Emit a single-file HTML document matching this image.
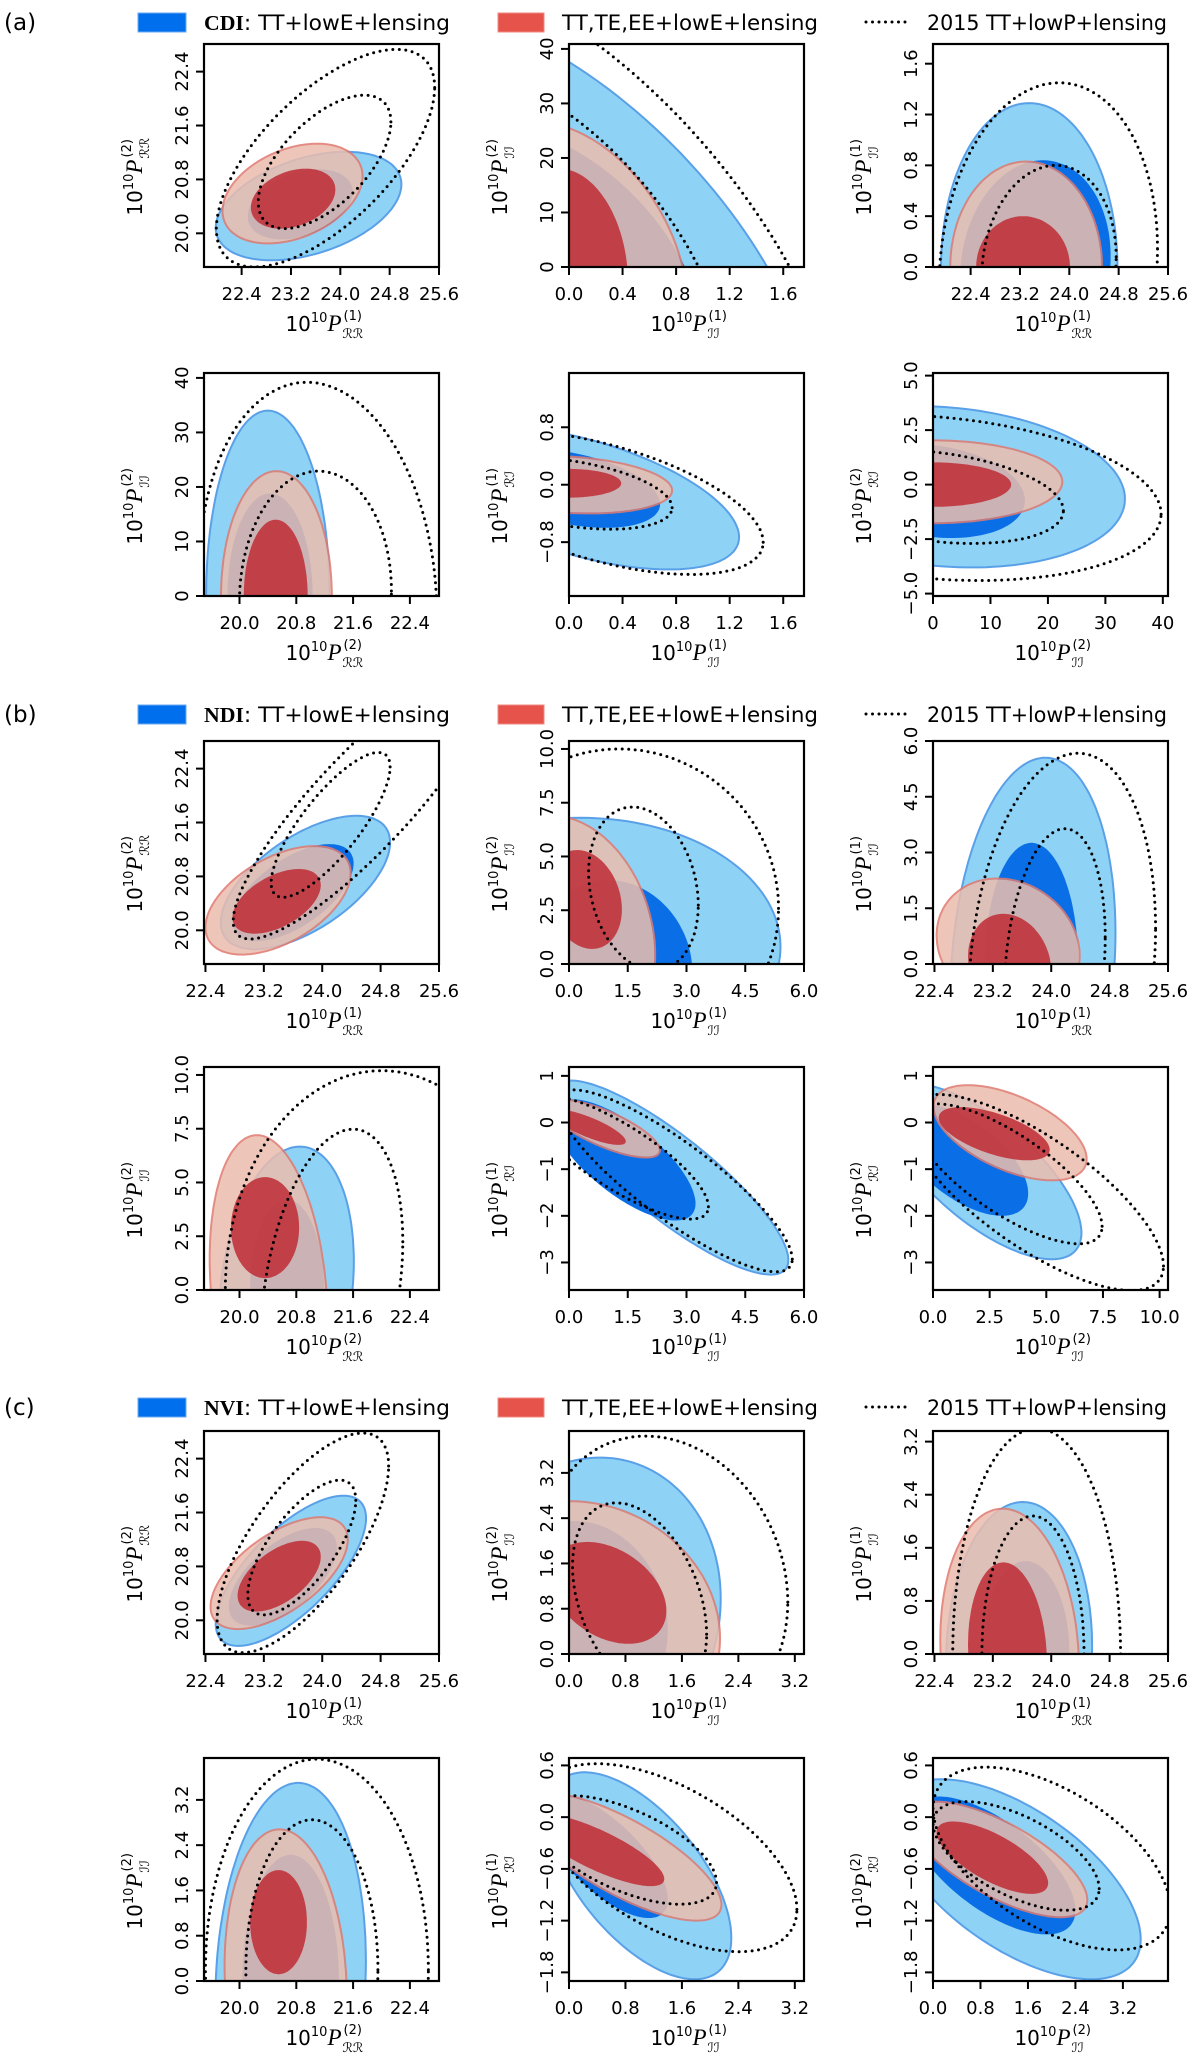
<!DOCTYPE html>
<html><head><meta charset="utf-8"><style>
html,body{margin:0;padding:0;background:#fff;width:1200px;height:2067px;overflow:hidden}
svg{display:block}
text{font-family:"DejaVu Sans","Liberation Sans",sans-serif;fill:#000}
</style></head><body>
<svg id="fig" width="1200" height="2067" viewBox="0 0 1200 2067" xmlns="http://www.w3.org/2000/svg"></svg>
<script>
// ---- axis ranges ----
const rangeRR1a=[21.79,25.6], rangeRR2=[19.5,22.81], rangeII1a=[0,1.755], rangeII2a=[0,40.9], rangeRI1a=[-1.55,1.556], rangeRI2a=[-5.11,5.12];
const rangeRR1b=[22.38,25.6], rangeII1b=[0,6.0], rangeII2b=[0,10.37], rangeRIb=[-3.59,1.19];
const rangeRR1c=[22.38,25.6], rangeII1cx=[0,3.33], rangeII1cy=[0,3.36], rangeII2cy=[0,3.94], rangeII2cx=[0,3.96], rangeRIc=[-1.9,0.686];
// ---- ticks ----
const ticksRR1=[22.4,23.2,24.0,24.8,25.6], labelsRR1=["22.4","23.2","24.0","24.8","25.6"];
const ticksRR2=[20.0,20.8,21.6,22.4], labelsRR2=["20.0","20.8","21.6","22.4"];
const ticksII2a=[0,10,20,30,40], labelsII2a=["0","10","20","30","40"];
const ticksII1a=[0,0.4,0.8,1.2,1.6], labelsII1a=["0.0","0.4","0.8","1.2","1.6"];
const ticksRI1a=[-0.8,0,0.8], labelsRI1a=["\u22120.8","0.0","0.8"];
const ticksRI2a=[-5,-2.5,0,2.5,5], labelsRI2a=["\u22125.0","\u22122.5","0.0","2.5","5.0"];
const ticksII1b=[0,1.5,3,4.5,6], labelsII1b=["0.0","1.5","3.0","4.5","6.0"];
const ticksII2b=[0,2.5,5,7.5,10], labelsII2b=["0.0","2.5","5.0","7.5","10.0"];
const ticksRIb=[-3,-2,-1,0,1], labelsRIb=["\u22123","\u22122","\u22121","0","1"];
const ticksIIc=[0,0.8,1.6,2.4,3.2], labelsIIc=["0.0","0.8","1.6","2.4","3.2"];
const ticksRIc=[-1.8,-1.2,-0.6,0,0.6], labelsRIc=["\u22121.8","\u22121.2","\u22120.6","0.0","0.6"];
// ---- contours: [cx, sx, cy, sy, rho]; order: blue95, blue68, red95, red68, dot95, dot68 ----
const a1=[[23.485,1.505,20.405,0.805,0.4],[23.35,0.85,20.43,0.52,0.35],[23.225,1.135,20.59,0.74,0.35],[23.235,0.685,20.515,0.445,0.3],[23.76,1.77,21.115,1.615,0.65],[23.745,1.075,21.06,0.99,0.6]];
const a2=[[0,1.85,0,47,-0.6],[0,1.0,0,25.4,-0.5],[0,0.89,0,26.7,-0.3],[0,0.44,0,18,-0.15],[0,2.06,0,55.6,-0.6],[0,1.21,0,35,-0.6]];
const a3=[[23.35,1.43,0,1.29,0],[23.45,1.22,0,0.84,0.1],[23.3,1.23,0,0.83,0],[23.25,0.76,0,0.4,0],[23.66,1.77,0,1.45,0.1],[23.67,1.09,0,0.8,0.1]];
const a4=[[20.4,0.87,0,34,0],[20.43,0.6,0,18.8,0],[20.52,0.78,0,22.9,0],[20.51,0.45,0,14,0],[21.1,1.68,0,39.2,-0.09],[21.07,1.07,0,22.9,0.04]];
const a5=[[0.1,1.17,-0.18,1.0,-0.55],[0,0.68,-0.05,0.55,-0.4],[0,0.77,0,0.4,-0.2],[0,0.39,0.02,0.2,0],[0.25,1.2,-0.25,1.0,-0.55],[0,0.77,-0.12,0.5,-0.4]];
const a6=[[2,31.4,-0.1,3.7,-0.15],[0,16,-0.3,2.15,-0.2],[0,22.5,0.13,1.9,0],[0,13.6,0,1.02,0],[0,39.7,-0.6,3.8,-0.2],[0,22.7,-0.55,2.15,-0.3]];
const b1=[[23.77,1.16,20.71,0.99,0.6],[23.6,0.83,20.56,0.72,0.6],[23.395,0.995,20.445,0.805,0.5],[23.375,0.605,20.43,0.48,0.5],[24.55,1.77,21.9,2.03,0.87],[24.115,0.815,21.565,1.075,0.8]];
const b2=[[0.3,5.1,0.8,6.0,0],[1.2,1.95,0,3.9,-0.1],[0,2.2,1.5,5.4,-0.2],[0.4,0.95,3.0,2.3,-0.2],[1.4,3.95,2.8,7.2,-0.03],[1.9,1.4,3.5,3.8,-0.2]];
const b3=[[23.75,1.13,0,5.55,0.15],[23.73,0.64,0,3.26,0],[23.41,0.98,0.5,1.8,-0.15],[23.43,0.57,0,1.35,-0.15],[24.15,1.28,0,5.67,0.17],[24.05,0.69,0,3.64,0.2]];
const b4=[[20.66,0.95,0,6.67,0.2],[20.67,0.52,0,4.2,0],[20.41,0.83,0,7.2,-0.2],[20.36,0.48,2.9,2.35,0],[22.0,2.2,0,10.2,0],[21.3,1.0,0,7.48,0.3]];
const b5=[[2.6,3.0,-1.18,2.08,-0.85],[1.4,1.83,-0.8,1.3,-0.72],[0.9,1.42,-0.13,0.62,-0.75],[0.5,0.95,-0.1,0.38,-0.8],[2.7,3.0,-1.25,1.95,-0.86],[1.3,2.26,-0.75,1.32,-0.8]];
const b6=[[2.2,4.35,-1.05,1.88,-0.7],[1.3,2.9,-0.8,1.2,-0.6],[3.4,3.38,-0.22,1.02,-0.55],[2.7,2.45,-0.24,0.57,-0.6],[4.5,5.67,-1.5,2.1,-0.75],[3.3,4.16,-1.1,1.5,-0.75]];
const c1=[[23.57,1.03,20.735,1.115,0.7],[23.46,0.74,20.645,0.725,0.6],[23.41,0.94,20.7,0.83,0.6],[23.41,0.57,20.655,0.525,0.55],[23.735,1.175,21.15,1.63,0.7],[23.72,0.74,21.08,1.0,0.7]];
const c2=[[0.25,1.9,0.7,2.77,0.1],[0.2,1.2,0.6,1.75,-0.1],[0.2,1.94,0.5,2.2,-0.1],[0.55,0.83,1.08,0.9,-0.35],[1.35,1.75,1.3,2.55,-0.15],[1.0,0.95,0.95,1.72,-0.35]];
const c3=[[23.56,1.0,0,2.29,0.05],[23.65,0.6,0,1.4,0],[23.43,0.95,0,2.19,-0.1],[23.4,0.54,0,1.38,-0.1],[23.8,1.15,0,3.4,0],[23.75,0.7,0,2.08,0]];
const c4=[[20.72,1.06,0,3.5,0.1],[20.72,0.68,0,2.23,0],[20.65,0.86,0,2.68,-0.1],[20.55,0.4,1.04,0.92,0],[21.09,1.57,0.2,3.72,0],[21.02,0.93,0.2,2.65,0]];
const c5=[[1.0,1.3,-0.68,1.2,-0.6],[0.5,0.9,-0.45,0.72,-0.7],[0.75,1.41,-0.46,0.74,-0.75],[0.4,0.95,-0.38,0.42,-0.8],[1.4,1.83,-0.47,1.09,-0.55],[0.8,1.29,-0.38,0.63,-0.6]];
const c6=[[1.4,2.1,-0.72,1.16,-0.6],[1.0,1.4,-0.56,0.8,-0.65],[1.1,1.5,-0.49,0.67,-0.7],[1.0,0.94,-0.47,0.42,-0.7],[2.0,2.0,-0.48,1.06,-0.55],[1.4,1.4,-0.45,0.63,-0.6]];

const NS="http://www.w3.org/2000/svg";
const svg=document.getElementById('fig');
function el(tag,attrs,parent){const e=document.createElementNS(NS,tag);for(const k in attrs)e.setAttribute(k,attrs[k]);(parent||svg).appendChild(e);return e;}
const COLS=[204,569,933], ROWS=[44,373,741,1067,1431,1758], W=235, H=223;
const styles=[
 {fill:'#8ed3f5',stroke:'#5aa0e8',sw:2,op:1},
 {fill:'#0a6fe6',stroke:'none',sw:0,op:1},
 {fill:'#ebbdae',stroke:'#e07a70',sw:2,op:0.86},
 {fill:'#c0363e',stroke:'none',sw:0,op:0.92},
 {fill:'none',stroke:'#000',sw:3,op:1,dot:true},
 {fill:'none',stroke:'#000',sw:3,op:1,dot:true}];
const levelNames=['blue-95-contour','blue-68-contour','red-95-contour','red-68-contour','dotted-95-contour','dotted-68-contour'];
let clipId=0;

function axisLabel(g,sup,sub){
  const t=el('text',{x:8,y:0,'text-anchor':'end','font-size':20},g);
  t.appendChild(document.createTextNode('10'));
  const s=el('tspan',{dy:-9,'font-size':13},t);s.textContent='10';
  const p=el('tspan',{dy:9,'font-size':23,'font-style':'italic','font-family':'Liberation Serif, serif'},t);p.textContent='P';
  const a=el('text',{x:10,y:-11,'font-size':13},g);a.textContent=sup;
  const b=el('text',{x:9,y:7,'font-size':13,'font-style':'italic'},g);b.textContent=sub;
}

function panel(name,col,row,xr,yr,xt,xtl,yt,ytl,xlab,ylab,cs){
  const L=COLS[col],T=ROWS[row];
  const g=el('g',{});
  
  
  const sx=v=>L+(v-xr[0])/(xr[1]-xr[0])*W;
  const sy=v=>T+H-(v-yr[0])/(yr[1]-yr[0])*H;
  const id='clip'+(clipId++);
  const cp=el('clipPath',{id:id},g);el('rect',{x:L,y:T,width:W,height:H},cp);
  const cg=el('g',{'clip-path':'url(#'+id+')'},g);
  cs.forEach((c,i)=>{
    const phi=Math.acos(c[4]);let d='';
    for(let k=0;k<=160;k++){const t=k/160*2*Math.PI;
      const X=sx(c[0]+c[1]*Math.cos(t)),Y=sy(c[2]+c[3]*Math.cos(t-phi));
      d+=(k?'L':'M')+X.toFixed(1)+' '+Y.toFixed(1);}
    d+='Z';const st=styles[i];
    const p=el('path',{d:d,fill:st.fill,stroke:st.stroke,'stroke-width':st.sw,opacity:st.op},cg);
    if(st.dot){p.setAttribute('stroke-dasharray','0 6.5');p.setAttribute('stroke-linecap','round');}
    
    
  });
  const box=el('rect',{x:L,y:T,width:W,height:H,fill:'none',stroke:'#000','stroke-width':2.2},g);
  
  
  xt.forEach((v,i)=>{const X=sx(v);if(X<L-1||X>L+W+1)return;
    el('line',{x1:X,y1:T+H,x2:X,y2:T+H+8,stroke:'#000','stroke-width':2},g);
    const t=el('text',{x:X,y:T+H+33,'text-anchor':'middle','font-size':18},g);t.textContent=xtl[i];
    
    });
  yt.forEach((v,i)=>{const Y=sy(v);if(Y<T-1||Y>T+H+1)return;
    el('line',{x1:L-8,y1:Y,x2:L,y2:Y,stroke:'#000','stroke-width':2},g);
    const t=el('text',{x:L-16,y:Y,'text-anchor':'middle','font-size':18,transform:'rotate(-90 '+(L-16)+' '+Y+')'},g);t.textContent=ytl[i];
    
    });
  const xg=el('g',{transform:'translate('+(L+W/2+12)+','+(T+H+64)+')'},g);
  
  
  axisLabel(xg,xlab[0],xlab[1]);
  const yg=el('g',{transform:'translate('+(L-62)+','+(T+H/2+12)+') rotate(-90)'},g);
  
  
  axisLabel(yg,ylab[0],ylab[1]);
}

function legend(y,tag,model){
  const g=el('g',{});
  
  
  const lb=el('text',{x:4,y:y+8,'font-size':23,'font-family':'Liberation Serif, serif'},g);lb.textContent='('+tag+')';
  
  
  el('rect',{x:138,y:y-9,width:48,height:19,fill:'#006fed',stroke:'#6aa8f0','stroke-width':1},g);
  const t1=el('text',{x:204,y:y+8,'font-size':21,textLength:246,lengthAdjust:'spacingAndGlyphs'},g);
  const bold=el('tspan',{'font-weight':'bold','font-family':'Liberation Serif, serif'},t1);bold.textContent=model;
  const rest=el('tspan',{},t1);rest.textContent=': TT+lowE+lensing';
  
  
  el('rect',{x:498,y:y-9,width:46,height:19,fill:'#e5534b',stroke:'#f08880','stroke-width':1},g);
  const t2=el('text',{x:562,y:y+8,'font-size':21,textLength:256,lengthAdjust:'spacingAndGlyphs'},g);t2.textContent='TT,TE,EE+lowE+lensing';
  
  
  el('line',{x1:866,y1:y,x2:908,y2:y,stroke:'#000','stroke-width':3,'stroke-dasharray':'0 6.5','stroke-linecap':'round'},g);
  const t3=el('text',{x:927,y:y+8,'font-size':21,textLength:240,lengthAdjust:'spacingAndGlyphs'},g);t3.textContent='2015 TT+lowP+lensing';
  
  
}

const RR='\u211B\u211B', II='\u2110\u2110', RI='\u211B\u2110';
legend(22,'a','CDI');legend(714,'b','NDI');legend(1407,'c','NVI');

panel('panel-a-rr1-rr2',0,0,rangeRR1a,rangeRR2,ticksRR1,labelsRR1,ticksRR2,labelsRR2,['(1)',RR],['(2)',RR],a1);
panel('panel-a-ii1-ii2',1,0,rangeII1a,rangeII2a,ticksII1a,labelsII1a,ticksII2a,labelsII2a,['(1)',II],['(2)',II],a2);
panel('panel-a-rr1-ii1',2,0,rangeRR1a,rangeII1a,ticksRR1,labelsRR1,ticksII1a,labelsII1a,['(1)',RR],['(1)',II],a3);
panel('panel-a-rr2-ii2',0,1,rangeRR2,rangeII2a,ticksRR2,labelsRR2,ticksII2a,labelsII2a,['(2)',RR],['(2)',II],a4);
panel('panel-a-ii1-ri1',1,1,rangeII1a,rangeRI1a,ticksII1a,labelsII1a,ticksRI1a,labelsRI1a,['(1)',II],['(1)',RI],a5);
panel('panel-a-ii2-ri2',2,1,rangeII2a,rangeRI2a,ticksII2a,labelsII2a,ticksRI2a,labelsRI2a,['(2)',II],['(2)',RI],a6);

panel('panel-b-rr1-rr2',0,2,rangeRR1b,rangeRR2,ticksRR1,labelsRR1,ticksRR2,labelsRR2,['(1)',RR],['(2)',RR],b1);
panel('panel-b-ii1-ii2',1,2,rangeII1b,rangeII2b,ticksII1b,labelsII1b,ticksII2b,labelsII2b,['(1)',II],['(2)',II],b2);
panel('panel-b-rr1-ii1',2,2,rangeRR1b,rangeII1b,ticksRR1,labelsRR1,ticksII1b,labelsII1b,['(1)',RR],['(1)',II],b3);
panel('panel-b-rr2-ii2',0,3,rangeRR2,rangeII2b,ticksRR2,labelsRR2,ticksII2b,labelsII2b,['(2)',RR],['(2)',II],b4);
panel('panel-b-ii1-ri1',1,3,rangeII1b,rangeRIb,ticksII1b,labelsII1b,ticksRIb,labelsRIb,['(1)',II],['(1)',RI],b5);
panel('panel-b-ii2-ri2',2,3,rangeII2b,rangeRIb,ticksII2b,labelsII2b,ticksRIb,labelsRIb,['(2)',II],['(2)',RI],b6);

panel('panel-c-rr1-rr2',0,4,rangeRR1c,rangeRR2,ticksRR1,labelsRR1,ticksRR2,labelsRR2,['(1)',RR],['(2)',RR],c1);
panel('panel-c-ii1-ii2',1,4,rangeII1cx,rangeII2cy,ticksIIc,labelsIIc,ticksIIc,labelsIIc,['(1)',II],['(2)',II],c2);
panel('panel-c-rr1-ii1',2,4,rangeRR1c,rangeII1cy,ticksRR1,labelsRR1,ticksIIc,labelsIIc,['(1)',RR],['(1)',II],c3);
panel('panel-c-rr2-ii2',0,5,rangeRR2,rangeII2cy,ticksRR2,labelsRR2,ticksIIc,labelsIIc,['(2)',RR],['(2)',II],c4);
panel('panel-c-ii1-ri1',1,5,rangeII1cx,rangeRIc,ticksIIc,labelsIIc,ticksRIc,labelsRIc,['(1)',II],['(1)',RI],c5);
panel('panel-c-ii2-ri2',2,5,rangeII2cx,rangeRIc,ticksIIc,labelsIIc,ticksRIc,labelsRIc,['(2)',II],['(2)',RI],c6);
</script>
</body></html>
